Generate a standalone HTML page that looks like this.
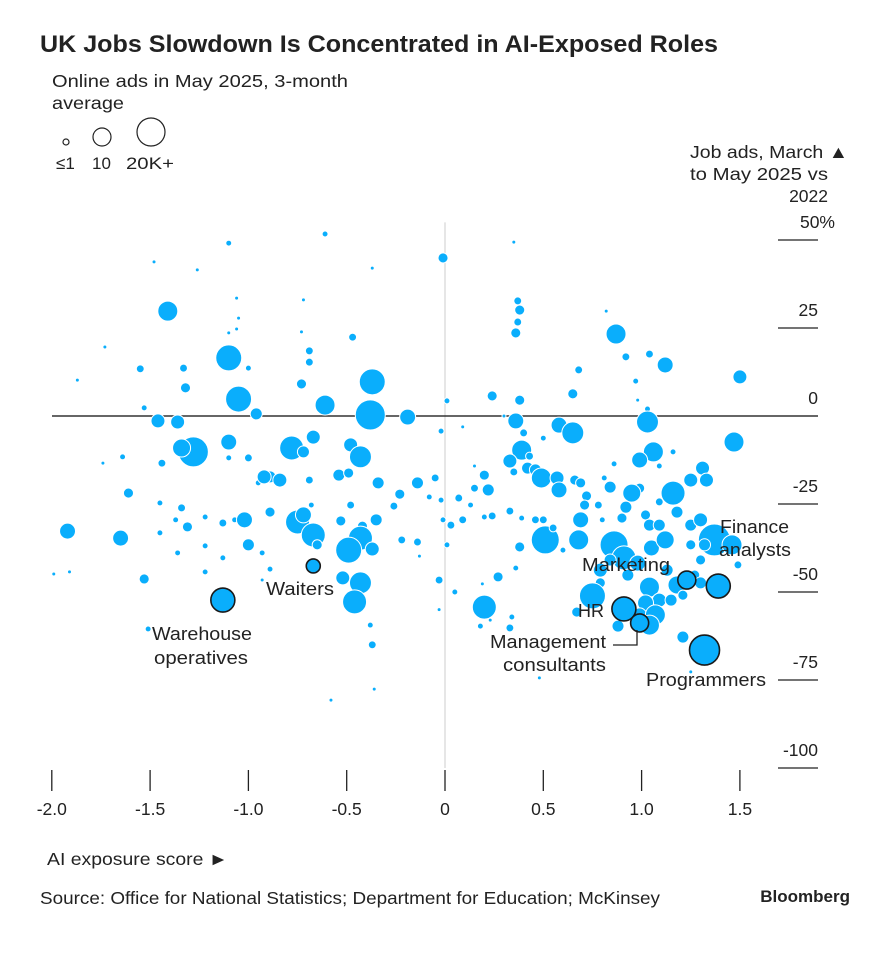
<!DOCTYPE html>
<html><head><meta charset="utf-8"><style>
body{margin:0;background:#fff;font-family:"Liberation Sans",sans-serif;}
svg{display:block}
text{font-family:"Liberation Sans",sans-serif;fill:#222}
</style></head><body>
<svg id="c" width="874" height="956">
<text x="40" y="52" font-size="24" font-weight="bold" fill="#111" textLength="678" lengthAdjust="spacingAndGlyphs">UK Jobs Slowdown Is Concentrated in AI-Exposed Roles</text>
<g>
<text x="52" y="87" font-size="17.5" textLength="296" lengthAdjust="spacingAndGlyphs">Online ads in May 2025, 3-month</text>
<text x="52" y="109" font-size="17.5" textLength="72" lengthAdjust="spacingAndGlyphs">average</text>
<circle cx="66" cy="142" r="3" fill="#fff" stroke="#222" stroke-width="1.2"/>
<circle cx="102" cy="137" r="9" fill="#fff" stroke="#222" stroke-width="1.2"/>
<circle cx="151" cy="132" r="14" fill="#fff" stroke="#222" stroke-width="1.2"/>
<text x="56" y="169" font-size="17">≤1</text>
<text x="92" y="169" font-size="17">10</text>
<text x="126" y="169" font-size="17" textLength="48" lengthAdjust="spacingAndGlyphs">20K+</text>
</g>
<g font-size="17.5" text-anchor="end">
<text x="848" y="158" textLength="158" lengthAdjust="spacingAndGlyphs">Job ads, March ▲</text>
<text x="828" y="180" textLength="138" lengthAdjust="spacingAndGlyphs">to May 2025 vs</text>
<text x="828" y="202">2022</text>
</g>
<g id="axes"></g>
<g id="dots"></g>
<g id="labels" font-size="18">
<text x="266" y="595" textLength="68" lengthAdjust="spacingAndGlyphs">Waiters</text>
<text x="152" y="640" textLength="100" lengthAdjust="spacingAndGlyphs">Warehouse</text>
<text x="154" y="664" textLength="94" lengthAdjust="spacingAndGlyphs">operatives</text>
<text x="720" y="533" textLength="69" lengthAdjust="spacingAndGlyphs">Finance</text>
<text x="719" y="556" textLength="72" lengthAdjust="spacingAndGlyphs">analysts</text>
<text x="582" y="571" textLength="88" lengthAdjust="spacingAndGlyphs">Marketing</text>
<text x="578" y="617" textLength="26" lengthAdjust="spacingAndGlyphs">HR</text>
<text x="490" y="648" textLength="116" lengthAdjust="spacingAndGlyphs">Management</text>
<text x="503" y="671" textLength="103" lengthAdjust="spacingAndGlyphs">consultants</text>
<text x="646" y="686" textLength="120" lengthAdjust="spacingAndGlyphs">Programmers</text>
<path d="M613 645 H637 V630" fill="none" stroke="#222" stroke-width="1.3"/>
</g>
<text x="47" y="865" font-size="17.5" textLength="181" lengthAdjust="spacingAndGlyphs">AI exposure score ►</text>
<text x="40" y="904" font-size="17.5" textLength="620" lengthAdjust="spacingAndGlyphs">Source: Office for National Statistics; Department for Education; McKinsey</text>
<text x="850" y="902" font-size="17" font-weight="bold" text-anchor="end" fill="#111">Bloomberg</text>
</svg>
<script>
const xTicks=[-2.0,-1.5,-1.0,-0.5,0,0.5,1.0,1.5];
const xTickLabels=["-2.0","-1.5","-1.0","-0.5","0","0.5","1.0","1.5"];
const yTicks=[50,25,0,-25,-50,-75,-100];
const yTickLabels=["50%","25","0","-25","-50","-75","-100"];
const xs=[-1.10,-0.61,-1.48,-1.26,-0.37,-0.01,-1.41,-1.06,-1.05,-1.06,-1.10,-0.73,-0.72,-1.73,-1.10,-1.00,-1.33,-1.55,-1.87,-1.32,-0.69,-0.69,-0.73,-0.47,-0.37,-1.05,-0.61,-0.38,-0.19,-0.96,-1.53,-1.46,-1.36,-1.28,-1.34,-1.10,-0.78,-0.67,-0.48,-0.43,-0.72,-1.10,-1.00,-0.95,-0.89,-1.44,-1.64,-1.74,-1.61,-1.34,-1.45,-1.37,-1.31,-1.22,-1.13,-1.07,-1.02,-0.92,-0.84,-0.69,-0.54,-0.49,-0.34,-0.23,-0.14,-0.05,-0.08,-0.75,-0.72,-0.67,-0.65,-0.53,-0.48,-0.42,-0.43,-0.49,-0.37,-0.35,-0.26,-0.22,-0.14,-0.89,-1.00,-0.93,-0.68,-1.13,-1.22,-1.36,-1.45,-1.92,-1.65,-1.99,-1.91,-1.53,-1.22,-0.52,-0.43,-0.46,-0.38,-0.37,-0.36,-0.58,-0.93,-0.89,-0.13,0.01,-0.01,-0.02,-0.03,-0.03,-1.51,
0.35,0.37,0.38,0.37,0.36,0.82,0.87,0.92,1.04,1.12,0.68,0.97,1.50,0.65,0.38,0.24,0.98,1.03,1.03,0.01,-0.02,0.09,0.30,0.36,0.40,0.58,0.65,0.50,1.47,1.06,1.09,1.16,1.31,0.39,0.33,0.43,0.42,0.15,0.20,0.15,0.22,0.35,0.46,0.49,0.57,0.66,0.69,0.58,0.72,0.81,0.86,0.99,0.84,0.99,0.95,1.16,1.25,1.33,1.18,1.09,0.92,0.90,1.02,1.04,0.69,0.71,0.78,0.80,0.07,0.13,0.20,0.03,0.09,0.24,0.33,0.39,0.46,0.51,0.68,0.38,0.50,0.55,0.60,0.86,0.91,0.98,1.05,1.12,1.09,1.25,1.30,1.37,1.46,1.32,1.25,1.30,1.49,1.27,1.13,1.18,1.04,1.09,1.15,1.21,1.30,1.02,0.79,0.75,0.99,1.07,1.04,0.88,0.67,0.20,0.27,0.34,0.33,0.18,0.05,0.19,0.23,0.36,0.48,1.21,1.25,0.79,0.93,0.84];
const ys=[49.1,51.7,43.8,41.5,42,44.9,29.8,33.5,27.8,24.7,23.6,23.9,33,19.6,16.5,13.6,13.6,13.4,10.2,8,18.5,15.3,9.1,22.4,9.7,4.8,3.1,0.3,-0.3,0.6,2.3,-1.4,-1.7,-10.2,-9.1,-7.4,-9.1,-6,-8.2,-11.6,-10.2,-11.9,-11.9,-19,-17.3,-13.4,-11.6,-13.4,-21.9,-26.1,-24.7,-29.5,-31.5,-28.7,-30.4,-29.5,-29.5,-17.3,-18.2,-18.2,-16.8,-16.2,-19,-22.2,-19,-17.6,-23,-30.1,-28.1,-33.8,-36.6,-29.8,-25.3,-31.3,-34.7,-38.1,-37.8,-29.5,-25.6,-35.2,-35.8,-27.3,-36.6,-38.9,-25.3,-40.3,-36.9,-38.9,-33.2,-32.7,-34.7,-44.9,-44.3,-46.3,-44.3,-46,-47.4,-52.8,-59.4,-65,-77.6,-80.7,-46.6,-43.5,-39.8,-36.6,-29.5,-23.9,-46.6,-55,-60.5,
49.4,32.7,30.1,26.7,23.6,29.8,23.3,16.8,17.6,14.5,13.1,9.9,11.1,6.3,4.5,5.7,4.5,2,-1.7,4.3,-4.3,-3.1,0,-1.4,-4.8,-2.6,-4.8,-6.3,-7.4,-10.2,-14.2,-10.2,-14.8,-9.7,-12.8,-11.4,-14.8,-14.2,-16.8,-20.5,-21,-15.9,-15.3,-17.6,-17.6,-18.2,-19,-21,-22.7,-17.6,-13.6,-12.5,-20.2,-20.5,-21.9,-21.9,-18.2,-18.2,-27.3,-24.4,-25.9,-29,-28.1,-31,-29.5,-25.3,-25.3,-29.5,-23.3,-25.3,-28.7,-31,-29.5,-28.4,-27,-29,-29.5,-35.2,-35.2,-37.2,-29.5,-31.8,-38.1,-36.6,-40.3,-41.8,-37.5,-35.2,-31,-31,-29.5,-35.2,-36.6,-36.6,-36.6,-40.9,-42.3,-45.2,-43.8,-48,-48.6,-52.3,-52.3,-50.9,-47.4,-53.1,-47.4,-51.1,-56.5,-56.5,-59.4,-59.7,-55.7,-54.3,-45.7,-57.1,-60.2,-59.7,-50,-47.7,-58,-43.2,-74.4,-62.8,-72.7,-43.8,-45.2,-40.9];
const ads=[0.9,0.9,0.4,0.4,0.4,2.6,10.2,0.4,0.4,0.4,0.4,0.4,0.4,0.4,17.2,0.9,1.6,1.6,0.4,2.6,1.6,1.6,2.6,1.6,17.2,17.2,10.2,23,6.5,3.7,0.9,5,5,23,8.3,6.5,14.7,5,5,12.3,3.7,0.9,1.6,0.9,3.7,1.6,0.9,0.4,2.6,1.6,0.9,0.9,2.6,0.9,1.6,0.9,6.5,5,5,1.6,3.7,2.6,3.7,2.6,3.7,1.6,0.9,14.7,6.5,14.7,2.6,2.6,1.6,2.6,14.7,17.2,5,3.7,1.6,1.6,1.6,2.6,3.7,0.9,0.9,0.9,0.9,0.9,0.9,6.5,6.5,0.4,0.4,2.6,0.9,5,12.3,14.7,0.9,1.6,0.4,0.4,0.4,0.9,0.4,0.9,0.9,0.9,1.6,0.4,0.9,
0.4,1.6,2.6,1.6,2.6,0.4,10.2,1.6,1.6,6.5,1.6,0.9,5,2.6,2.6,2.6,0.4,0.9,12.3,0.9,0.9,0.4,0.4,6.5,1.6,6.5,12.3,0.9,10.2,10.2,0.9,0.9,5,10.2,5,1.6,3.7,0.4,2.6,1.6,3.7,1.6,3.7,10.2,5,2.6,2.6,6.5,2.6,0.9,0.9,6.5,3.7,2.6,8.3,14.7,5,5,3.7,1.6,3.7,2.6,2.6,3.7,6.5,2.6,1.6,0.9,1.6,0.9,0.9,1.6,1.6,1.6,1.6,0.9,1.6,20,10.2,2.6,1.6,1.6,0.9,20,14.7,6.5,6.5,8.3,3.7,3.7,5,26,10.2,3.7,2.6,2.6,1.6,2.6,3.7,8.3,10.2,5,3.7,2.6,3.7,6.5,2.6,17.2,5,10.2,10.2,3.7,2.6,14.7,2.6,0.9,1.6,0.9,0.9,0.4,0.4,0.9,0.4,3.7,0.4,5,3.7,3.7];
const hiNames=["waiters","warehouse-operatives","hr","management-consultants","marketing","finance-analysts","programmers"];
const hiX=[-0.67,-1.13,0.91,0.99,1.23,1.39,1.32];
const hiY=[-42.6,-52.3,-54.8,-58.8,-46.6,-48.3,-66.5];
const hiAds=[5,14.7,14.7,8.3,8.3,14.7,23];

const NS="http://www.w3.org/2000/svg";
const X=v=>445+v*196.6;
const Y=v=>416-v*3.52;
const R=v=>Math.max(2,14*Math.sqrt(v/20));
function mk(tag,attrs,parent){const e=document.createElementNS(NS,tag);for(const k in attrs)e.setAttribute(k,attrs[k]);parent.appendChild(e);return e;}
const axes=document.getElementById('axes');
let vl=mk('line',{x1:X(0),x2:X(0),y1:Y(55),y2:Y(-100),stroke:'#ddd','stroke-width':1.5},axes);


yTicks.forEach((t,i)=>{
  const y=Y(t);
  if(t===0){
    const z=mk('line',{x1:52,x2:818,y1:y,y2:y,stroke:'#333','stroke-width':1.5},axes);
    
    
  } else {
    const l=mk('line',{x1:778,x2:818,y1:y,y2:y,stroke:'#222','stroke-width':1.3},axes);
    
    
  }
  const tx=mk('text',{x:i===0?835:818,y:y-12,'font-size':17.5,'text-anchor':'end'},axes);
  tx.textContent=yTickLabels[i];
  
  
});
xTicks.forEach((t,i)=>{
  const x=X(t);
  const l=mk('line',{x1:x,x2:x,y1:770,y2:791,stroke:'#222','stroke-width':1.3},axes);
  
  
  const tx=mk('text',{x:x,y:815,'font-size':17.5,'text-anchor':'middle'},axes);
  tx.textContent=xTickLabels[i];
  
  
});
const dots=document.getElementById('dots');
xs.forEach((v,i)=>{
  const c=mk('circle',{cx:X(v),cy:Y(ys[i]),r:R(ads[i]),fill:'#0aaefc',stroke:'#fff','stroke-width':1},dots);
  
  
});
hiX.forEach((v,i)=>{
  const c=mk('circle',{cx:X(v),cy:Y(hiY[i]),r:R(hiAds[i]),fill:'#0aaefc',stroke:'#1a1a1a','stroke-width':1.6},dots);
  
  
});
</script>
</body></html>
